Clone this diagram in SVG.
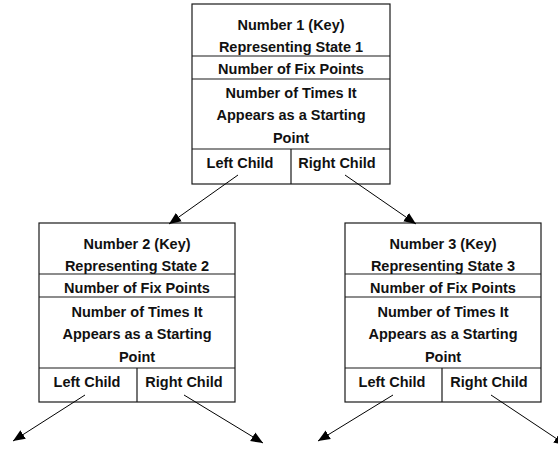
<svg xmlns="http://www.w3.org/2000/svg" width="558" height="449" viewBox="0 0 558 449">
<defs>
<style>
.box{fill:#fff;stroke:#1a1a1a;stroke-width:1.2}
.div{stroke:#1a1a1a;stroke-width:1.2;fill:none}
.t{font-family:"Liberation Sans",Arial,sans-serif;font-weight:bold;font-size:14.5px;fill:#111;text-anchor:middle}
.edge{stroke:#000;stroke-width:1;fill:none;marker-end:url(#ah)}
</style>
<marker id="ah" markerUnits="userSpaceOnUse" markerWidth="13" markerHeight="11" refX="12" refY="5.5" orient="auto">
<path d="M0,0.5 L12,5.5 L0,10.5 Z" fill="#000"/>
</marker>
</defs>

<g id="node1">
<rect class="box" x="192" y="4" width="198" height="180"/>
<path class="div" d="M192,56H390M192,79H390M192,149H390M291,149V184"/>
<text class="t" x="291" y="30">Number 1 (Key)</text>
<text class="t" x="291" y="52">Representing State 1</text>
<text class="t" x="291" y="74">Number of Fix Points</text>
<text class="t" x="291" y="98">Number of Times It</text>
<text class="t" x="291" y="120">Appears as a Starting</text>
<text class="t" x="291" y="143">Point</text>
<text class="t" x="240" y="167.5">Left Child</text>
<text class="t" x="337" y="167.5">Right Child</text>
</g>

<g id="node2">
<rect class="box" x="39" y="223" width="196" height="179"/>
<path class="div" d="M39,274H235M39,297H235M39,368H235M137,368V402"/>
<text class="t" x="137" y="249">Number 2 (Key)</text>
<text class="t" x="137" y="271">Representing State 2</text>
<text class="t" x="137" y="293">Number of Fix Points</text>
<text class="t" x="137" y="317">Number of Times It</text>
<text class="t" x="137" y="339">Appears as a Starting</text>
<text class="t" x="137" y="362">Point</text>
<text class="t" x="87" y="386.5">Left Child</text>
<text class="t" x="184" y="386.5">Right Child</text>
</g>

<g id="node3">
<rect class="box" x="345" y="223" width="196" height="179"/>
<path class="div" d="M345,274H541M345,297H541M345,368H541M442,368V402"/>
<text class="t" x="443" y="249">Number 3 (Key)</text>
<text class="t" x="443" y="271">Representing State 3</text>
<text class="t" x="443" y="293">Number of Fix Points</text>
<text class="t" x="443" y="317">Number of Times It</text>
<text class="t" x="443" y="339">Appears as a Starting</text>
<text class="t" x="443" y="362">Point</text>
<text class="t" x="392" y="386.5">Left Child</text>
<text class="t" x="489" y="386.5">Right Child</text>
</g>

<g id="connectors">
<line class="edge" x1="238" y1="175" x2="169" y2="224"/>
<line class="edge" x1="345" y1="175" x2="416" y2="224"/>
<line class="edge" x1="85" y1="395" x2="13" y2="441"/>
<line class="edge" x1="184" y1="395" x2="263" y2="443"/>
<line class="edge" x1="393" y1="395" x2="318" y2="441"/>
<line class="edge" x1="491" y1="395" x2="566" y2="445"/>
</g>
</svg>
